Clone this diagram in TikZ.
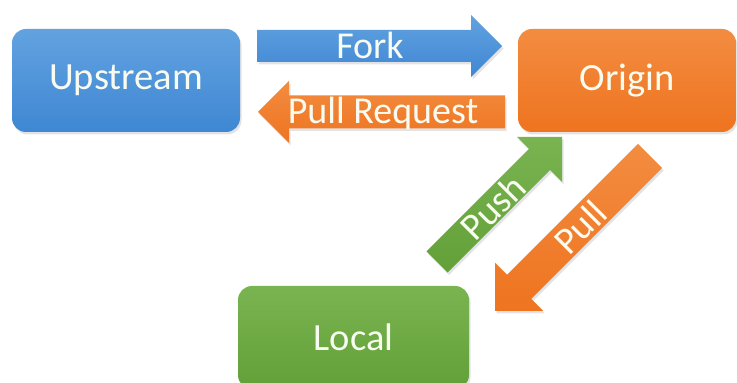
\documentclass[tikz,border=0pt]{standalone}
\usepackage{fontspec}
\setmainfont{Carlito}
\usetikzlibrary{shadows}
\definecolor{bluetop}{HTML}{62A2E0}
\definecolor{bluebot}{HTML}{3F87D3}
\definecolor{orgtop}{HTML}{F38C40}
\definecolor{orgbot}{HTML}{EE7420}
\definecolor{grntop}{HTML}{7AB451}
\definecolor{grnbot}{HTML}{62A038}
\definecolor{txt}{HTML}{F8FBF0}
\tikzset{
  shad/.style={drop shadow={shadow xshift=1.5pt, shadow yshift=-2.5pt, opacity=0.22}},
  box/.style={shad, rounded corners=14pt, minimum height=103pt, text=txt,
    font=\fontsize{38.5}{42}\selectfont, inner sep=0pt},
  bluebox/.style={box, top color=bluetop, bottom color=bluebot},
  orgbox/.style={box, top color=orgtop, bottom color=orgbot},
  grnbox/.style={box, top color=grntop, bottom color=grnbot},
  lbl/.style={text=txt, font=\fontsize{38}{42}\selectfont, inner sep=0pt},
  bluearrow/.style={shad, top color=bluetop, bottom color=bluebot},
  orgarrow/.style={shad, top color=orgtop, bottom color=orgbot},
  grnarrow/.style={shad, top color=grntop, bottom color=grnbot},
}
% #1 style, #2 tail centre, #3 angle, #4 length, #5 body half width, #6 head half width
\newcommand\blockarrow[6]{%
  \path[#1, shift={#2}, rotate=#3]
    (0,-#5) -- ({#4-#6},-#5) -- ({#4-#6},-#6) -- (#4,0)
    -- ({#4-#6},#6) -- ({#4-#6},#5) -- (0,#5) -- cycle;}
\begin{document}
\begin{tikzpicture}[x=1pt,y=1pt]
\useasboundingbox (0,0) rectangle (737,383);
\clip (0,0) rectangle (737,383);
% boxes
\node[bluebox, minimum width=228pt] (upstream) at (126,302.5) {Upstream};
\node[orgbox, minimum width=218pt] (origin) at (627,302.5) {Origin};
\node[grnbox, minimum width=231pt] (local) at (353.5,45.5) {Local};
% block arrows
\blockarrow{bluearrow}{(257,337)}{0}{245}{16}{31}
\blockarrow{orgarrow}{(505,271)}{180}{247}{16.5}{31}
\blockarrow{grnarrow}{(437,121)}{45}{177}{15}{32}
\blockarrow{orgarrow}{(650,227)}{225}{219}{17}{34}
% labels
\node[lbl] (fork) at (370,338) {Fork};
\node[lbl] (pr) at (383,270) {Pull Request};
\node[lbl, rotate=45] (push) at (493,176) {Push};
\node[lbl, rotate=45] (pull) at (580,156) {Pull};
\end{tikzpicture}
\end{document}
